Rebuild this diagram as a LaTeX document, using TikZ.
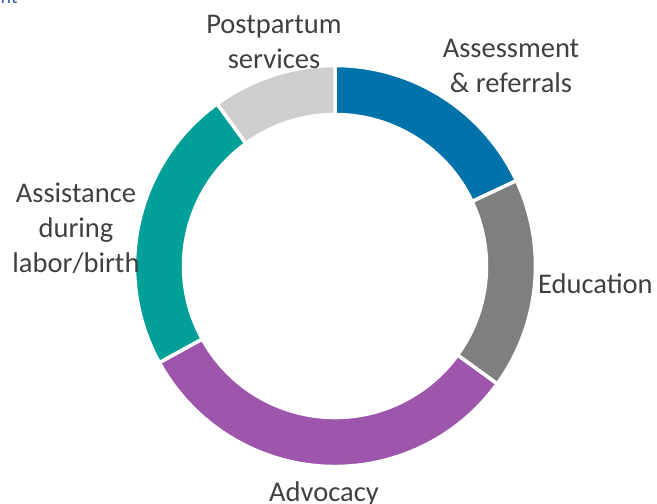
\documentclass[tikz,border=0pt]{standalone}
\usepackage{fontspec}
\setmainfont{Carlito}
\definecolor{segblue}{HTML}{0072AA}
\definecolor{seggray}{HTML}{7F7F7F}
\definecolor{segpurple}{HTML}{9E56AC}
\definecolor{segteal}{HTML}{009F97}
\definecolor{seglight}{HTML}{CFCDCD}
\definecolor{labelgray}{HTML}{404040}
\definecolor{captionblue}{HTML}{3B5CA8}
\tikzset{
  seglabel/.style={inner sep=0pt, text=labelgray, align=center, anchor=base,
    font=\fontsize{28.5}{35}\selectfont},
  segsep/.style={draw=white, line width=3.5pt, line join=miter}
}
\newcommand{\ringseg}[3]{%
  \filldraw[segsep, fill=#1] (335,266) ++(#2:200.5)
    arc[start angle=#2, end angle=#3, radius=200.5]
    -- ($(335,266)+(#3:151.5)$)
    arc[start angle=#3, end angle=#2, radius=151.5] -- cycle;}
\usetikzlibrary{calc}
\begin{document}
\begin{tikzpicture}[x=1pt, y=-1pt]
\useasboundingbox (0,0) rectangle (657,504);
% ring segments (angles clockwise from east in image coordinates)
\ringseg{segblue}{-90}{-25.2}
\ringseg{seggray}{-25.2}{36}
\ringseg{segpurple}{36}{151.2}
\ringseg{segteal}{151.2}{234}
\ringseg{seglight}{234}{270}
% labels (base anchor = baseline of the last line)
\node[seglabel] (post) at (274,68) {Postpartum\\services};
\node[seglabel] (assess) at (511,92) {Assessment\\\& referrals};
\node[seglabel] (assist) at (76,272) {Assistance\\during\\labor/birth};
\node[seglabel, anchor=base west] (edu) at (538,293) {Education};
\node[seglabel] (adv) at (324,501) {Advocacy};
% cut-off caption at the top edge
\node[inner sep=0pt, anchor=base west, text=captionblue,
  font=\fontsize{20}{24}\selectfont\itshape] (cap) at (1,3) {nt};
\end{tikzpicture}
\end{document}
